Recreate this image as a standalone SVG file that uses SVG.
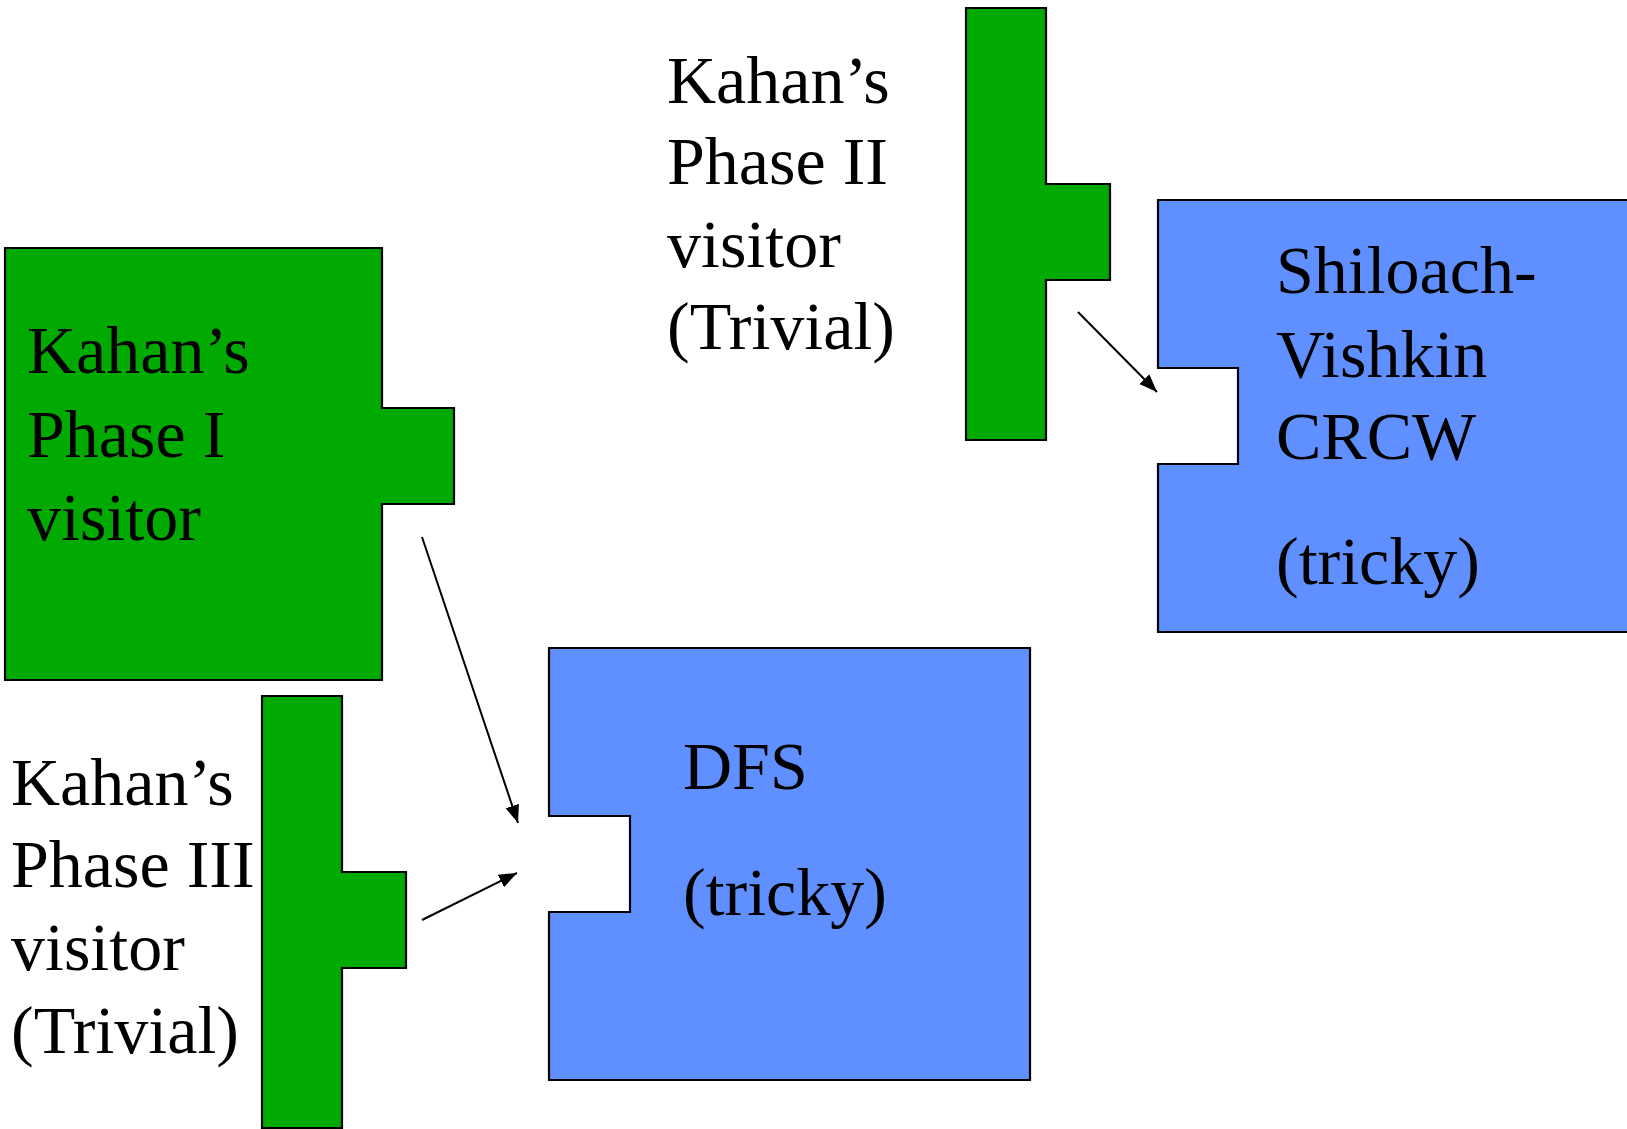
<svg xmlns="http://www.w3.org/2000/svg" width="1627" height="1129" viewBox="0 0 1627 1129">
<style>
.green{fill:#00AA00;stroke:#000;stroke-width:2.2}
.blue{fill:#6090FF;stroke:#000;stroke-width:2.2}
.lbl{font-family:"Liberation Serif","Times New Roman",serif;font-size:68px;fill:#000}
.conn{stroke:#000;stroke-width:2;fill:none}
</style>
<defs>
<marker id="ah" markerUnits="userSpaceOnUse" markerWidth="20" markerHeight="16" refX="18" refY="7" orient="auto">
<path d="M0,0 L18,7 L0,14 Z" fill="#000"/>
</marker>
</defs>
<rect width="1627" height="1129" fill="#fff"/>
<g id="phase1">
<path class="green" d="M5,248 H382 V408 H454 V504 H382 V680 H5 Z"/>
<text class="lbl" x="27" y="373">Kahan’s</text>
<text class="lbl" x="27" y="457">Phase I</text>
<text class="lbl" x="27" y="540">visitor</text>
</g>
<g id="phase3">
<path class="green" d="M262,696 H342 V872 H406 V968 H342 V1128 H262 Z"/>
<text class="lbl" x="11" y="805">Kahan’s</text>
<text class="lbl" x="11" y="887">Phase III</text>
<text class="lbl" x="11" y="970">visitor</text>
<text class="lbl" x="11" y="1053">(Trivial)</text>
</g>
<g id="phase2">
<path class="green" d="M966,8 H1046 V184 H1110 V280 H1046 V440 H966 Z"/>
<text class="lbl" x="667" y="103">Kahan’s</text>
<text class="lbl" x="667" y="184">Phase II</text>
<text class="lbl" x="667" y="267">visitor</text>
<text class="lbl" x="667" y="349">(Trivial)</text>
</g>
<g id="dfs">
<path class="blue" d="M549,648 H1030 V1080 H549 V912 H630 V816 H549 Z"/>
<text class="lbl" x="683" y="789">DFS</text>
<text class="lbl" x="683" y="915">(tricky)</text>
</g>
<g id="sv">
<path class="blue" d="M1158,200 H1640 V632 H1158 V464 H1238 V368 H1158 Z"/>
<text class="lbl" x="1276" y="293">Shiloach-</text>
<text class="lbl" x="1276" y="377">Vishkin</text>
<text class="lbl" x="1276" y="459">CRCW</text>
<text class="lbl" x="1276" y="584">(tricky)</text>
</g>
<g id="connectors">
<line class="conn" x1="422" y1="537" x2="518" y2="823" marker-end="url(#ah)"/>
<line class="conn" x1="422" y1="920" x2="517" y2="873" marker-end="url(#ah)"/>
<line class="conn" x1="1078" y1="312" x2="1157" y2="392" marker-end="url(#ah)"/>
</g>
</svg>
